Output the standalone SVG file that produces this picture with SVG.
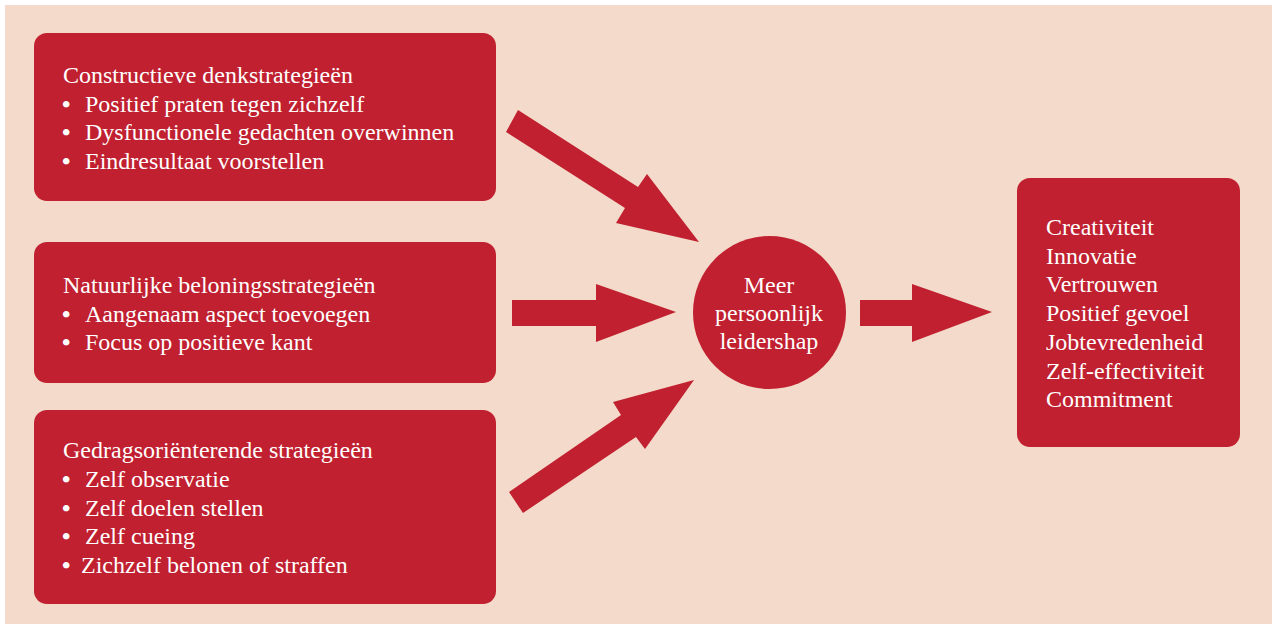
<svg xmlns="http://www.w3.org/2000/svg" width="1272" height="624" viewBox="0 0 1272 624">
<style>
.box{fill:#C0202F;}
.arrow{fill:#C0202F;}
text{font-family:"Liberation Serif","DejaVu Serif",serif;font-size:24px;fill:#FFFFFF;}
.b{font-weight:bold;}
.c{text-anchor:middle;}
</style>
<rect x="0" y="0" width="1272" height="624" fill="#FFFFFF"/>
<rect x="5" y="5" width="1267" height="619" fill="#F3DACA"/>
<g id="box-constructief">
<rect class="box" x="34" y="33" width="462" height="168" rx="13"/>
<text x="63" y="83">Constructieve denkstrategieën</text>
<text x="62" y="112"><tspan class="b">•</tspan><tspan x="85">Positief praten tegen zichzelf</tspan></text>
<text x="62" y="140"><tspan class="b">•</tspan><tspan x="85">Dysfunctionele gedachten overwinnen</tspan></text>
<text x="62" y="169"><tspan class="b">•</tspan><tspan x="85">Eindresultaat voorstellen</tspan></text>
</g>
<g id="box-natuurlijk">
<rect class="box" x="34" y="242" width="462" height="141" rx="13"/>
<text x="63" y="293">Natuurlijke beloningsstrategieën</text>
<text x="62" y="322"><tspan class="b">•</tspan><tspan x="85">Aangenaam aspect toevoegen</tspan></text>
<text x="62" y="350"><tspan class="b">•</tspan><tspan x="85">Focus op positieve kant</tspan></text>
</g>
<g id="box-gedrag">
<rect class="box" x="34" y="410" width="462" height="194" rx="13"/>
<text x="63" y="458">Gedragsoriënterende strategieën</text>
<text x="62" y="487"><tspan class="b">•</tspan><tspan x="85">Zelf observatie</tspan></text>
<text x="62" y="516"><tspan class="b">•</tspan><tspan x="85">Zelf doelen stellen</tspan></text>
<text x="62" y="544"><tspan class="b">•</tspan><tspan x="85">Zelf cueing</tspan></text>
<text x="62" y="573"><tspan class="b">•</tspan><tspan x="81">Zichzelf belonen of straffen</tspan></text>
</g>
<g id="circle-leiderschap">
<circle class="box" cx="769.5" cy="312.5" r="76.5"/>
<text class="c" x="769" y="293">Meer</text>
<text class="c" x="769" y="321">persoonlijk</text>
<text class="c" x="769" y="349">leidershap</text>
</g>
<g id="box-resultaten">
<rect class="box" x="1017" y="178" width="223" height="269" rx="13"/>
<text x="1046" y="235">Creativiteit</text>
<text x="1046" y="264">Innovatie</text>
<text x="1046" y="292">Vertrouwen</text>
<text x="1046" y="321">Positief gevoel</text>
<text x="1046" y="350">Jobtevredenheid</text>
<text x="1046" y="379">Zelf-effectiviteit</text>
<text x="1046" y="407">Commitment</text>
</g>
<g id="connectors">
<polygon class="arrow" points="518,110 638,187 647,174 699,242 616,223 625,208 506,132"/>
<polygon class="arrow" points="512,300 596,300 596,284 676,312 596,342 596,326 512,326"/>
<polygon class="arrow" points="509,492 621,415 613,402 694,380 645,449 636,437 523,513"/>
<polygon class="arrow" points="860,300 912,300 912,284 992,312 912,342 912,326 860,326"/>
</g>
</svg>
